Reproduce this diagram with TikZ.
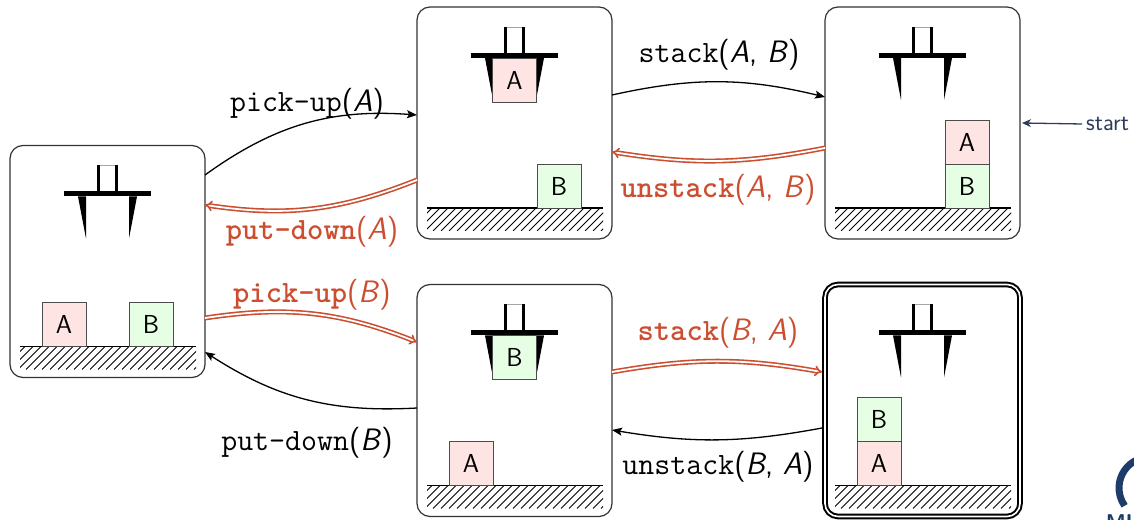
\documentclass[tikz,border=0pt]{standalone}
\usetikzlibrary{arrows.meta}

\definecolor{actred}{RGB}{204,78,48}
\definecolor{pinkA}{RGB}{255,228,228}
\definecolor{greenB}{RGB}{230,255,228}
\definecolor{startblue}{RGB}{45,60,90}
\definecolor{logoblue}{RGB}{30,60,105}

% action labels: typewriter name, sans arguments
\newcommand\act[2]{\texttt{#1}\textsf{(#2)}}
\newcommand\ract[2]{\texttt{\bfseries #1}\textsf{(#2)}}

% contents of a state box, in local coordinates (origin top-left, y down)
\newcommand\inbox[2]{\begin{scope}[shift={(#1.north west)}, yscale=-1]#2\end{scope}}

\newcommand\ground{%
  \begin{scope}
    \clip (10,201) rectangle (186,224);
    \foreach \x in {-24,-16,...,186} \draw[line width=1pt] (\x,224) -- ++(24,-24);
  \end{scope}
  \draw[line width=1.2pt] (10,201) -- (186,201);}

\newcommand\gripper{%
  \draw[line width=0.8pt, black!35] (87.2,20) -- (107.8,20);
  \draw[line width=3pt] (88.7,20) -- (88.7,46.5) (106.3,20) -- (106.3,46.5);
  \fill (54,46) rectangle (141,51);
  \fill (68,51) -- (76,51) -- (76,93) -- cycle;
  \fill (119,51) -- (127,51) -- (119,93) -- cycle;}

% \blk{name}{fill}{x}{y}{letter}
\newcommand\blk[5]{\node[block, fill=#2] (#1) at (#3,#4) {#5};}

\tikzset{
  box/.style={draw=black!80, line width=1.2pt, rounded corners=13pt,
    minimum width=195pt, minimum height=232pt, inner sep=0pt, outer sep=0pt},
  goalbox/.style={box, draw=black, line width=2pt, double=white, double distance=1.6pt},
  block/.style={draw=black!70, line width=0.8pt, minimum size=44pt, inner sep=0pt,
    font=\fontsize{26}{30}\selectfont\sffamily},
  lbl/.style={font=\fontsize{31}{36}\selectfont, inner sep=1pt},
  rlbl/.style={lbl, text=actred},
  blackarrow/.style={draw=black, line width=1.3pt, -{Stealth[length=10pt, width=8pt, inset=2pt]}},
  redarrow/.style={draw=actred, double=white, line width=1.6pt, double distance=1.8pt,
    -{Implies[length=8pt, width=13pt]}},
}

\begin{document}
\begin{tikzpicture}[x=1pt, y=1pt]
\useasboundingbox (0,0) rectangle (1134,519);

% state boxes
\node[box] (L)  at (107.5,257.5) {};
\node[box] (TM) at (514.5,396) {};
\node[box] (TR) at (922.5,396) {};
\node[box] (BM) at (514.5,118.5) {};
\node[goalbox] (BR) at (922.5,118.5) {};

% both blocks on the table
\inbox{L}{\ground\gripper
  \blk{L-A}{pinkA}{54}{179}{A}
  \blk{L-B}{greenB}{141}{179}{B}}

% holding A
\inbox{TM}{\ground\gripper
  \blk{TM-A}{pinkA}{97.5}{73}{A}
  \blk{TM-B}{greenB}{142}{179}{B}}

% A on B
\inbox{TR}{\ground\gripper
  \blk{TR-B}{greenB}{142}{179}{B}
  \blk{TR-A}{pinkA}{142}{135}{A}}

% holding B
\inbox{BM}{\ground\gripper
  \blk{BM-B}{greenB}{97.5}{73}{B}
  \blk{BM-A}{pinkA}{54}{179}{A}}

% B on A
\inbox{BR}{\ground\gripper
  \blk{BR-A}{pinkA}{54}{179}{A}
  \blk{BR-B}{greenB}{54}{135}{B}}

% transitions
\draw[blackarrow] ([yshift=86.5pt]L.east) to[bend left=20] ([yshift=8pt]TM.west);
\draw[redarrow] ([yshift=-57pt]TM.west) to[bend left=15] ([yshift=56.5pt]L.east);
\draw[blackarrow] ([yshift=28pt]TM.east) to[bend left=13] ([yshift=26pt]TR.west);
\draw[redarrow] ([yshift=-25pt]TR.west) to[bend left=10] ([yshift=-29pt]TM.east);
\draw[redarrow] ([yshift=-56.5pt]L.east) to[bend left=15] ([yshift=58.5pt]BM.west);
\draw[blackarrow] ([yshift=-7.5pt]BM.west) to[bend left=18] ([yshift=-90.5pt]L.east);
\draw[redarrow] ([yshift=28.5pt]BM.east) to[bend left=10] ([xshift=-3pt, yshift=28.5pt]BR.west);
\draw[blackarrow] ([xshift=-3pt, yshift=-27.5pt]BR.west) to[bend left=10] ([yshift=-29.5pt]BM.east);

% transition labels
\node[lbl]  (lab-puA) at (307,415) {\act{pick-up}{\textit{A}}};
\node[rlbl] (lab-pdA) at (312,287) {\ract{put-down}{\textit{A}}};
\node[lbl]  (lab-sAB) at (719,464) {\act{stack}{\textit{A}, \textit{B}}};
\node[rlbl] (lab-uAB) at (718,329) {\ract{unstack}{\textit{A}, \textit{B}}};
\node[rlbl] (lab-puB) at (312,224) {\ract{pick-up}{\textit{B}}};
\node[lbl]  (lab-pdB) at (307,76)  {\act{put-down}{\textit{B}}};
\node[rlbl] (lab-sBA) at (718,186) {\ract{stack}{\textit{B}, \textit{A}}};
\node[lbl]  (lab-uBA) at (718,52)  {\act{unstack}{\textit{B}, \textit{A}}};

% initial state marker
\node[anchor=west, inner sep=2pt, text=startblue,
  font=\fontsize{24}{28}\selectfont\sffamily] (start) at (1084,395) {start};
\draw[startblue, line width=1.3pt, -{Stealth[length=9pt, width=8pt]}]
  ([xshift=-2pt]start.west) -- ([xshift=2pt]TR.east);

% corner logo
\draw[logoblue, line width=7pt] (1150,31) ++(115:31) arc[start angle=115, end angle=215, radius=31];
\node[anchor=north west, inner sep=0pt, text=logoblue,
  font=\fontsize{20}{24}\selectfont\sffamily\bfseries] (logo) at (1106,5) {MU};
\end{tikzpicture}
\end{document}
